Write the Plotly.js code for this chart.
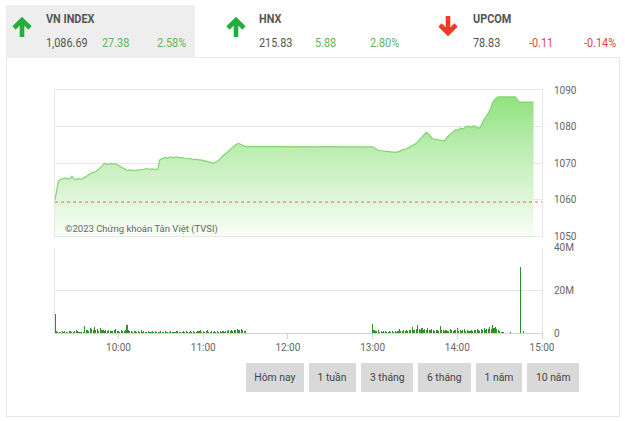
<!DOCTYPE html>
<html><head><meta charset="utf-8">
<script src="https://cdn.plot.ly/plotly-3.0.1.min.js"></script>
<style>
html,body{margin:0;padding:0;background:#fff;width:625px;height:421px;overflow:hidden;font-family:Roboto,"Noto Sans",sans-serif;}
#wrap{position:relative;width:625px;height:421px;}
#frame{position:absolute;left:6px;top:57px;width:614px;height:360px;border:1px solid #e8e8e8;box-sizing:border-box;}
#tab{position:absolute;left:6px;top:5px;width:189px;height:53px;background:#eeeeee;}
#chart{position:absolute;left:0;top:0;width:625px;height:421px;z-index:2;}
.t{position:absolute;white-space:nowrap;transform:scaleX(0.87);transform-origin:left center;font-size:12.5px;line-height:14px;}
.nm{font-weight:bold;color:#555;}
.v{color:#555;}
.up{color:#5cb85c;}
.dn{color:#e8443a;}
.arrow{position:absolute;width:20px;height:21px;}
.btn{position:absolute;top:363px;height:29px;background:#d9d9d9;color:#444;font-size:11.5px;line-height:29px;text-align:center;z-index:3;}
.btn span{display:inline-block;transform:scaleX(0.9);}
</style>
</head><body>
<div id="wrap">
  <div id="frame"></div>
  <div id="tab"></div>
  <div id="header"></div>
  <div id="chart"></div>
  <div id="buttons"></div>
</div>
<script>
// ---------- data ----------
const indexNames   = ['VN INDEX', 'HNX', 'UPCOM'];
const indexValues  = ['1,086.69', '215.83', '78.83'];
const indexChanges = ['27.38', '5.88', '-0.11'];
const indexPercent = ['2.58%', '2.80%', '-0.14%'];
const indexUp      = [true, true, false];

const rangeButtons = ['Hôm nay', '1 tuần', '3 tháng', '6 tháng', '1 năm', '10 năm'];

const tradeDay = '2023-01-03';
const closeValue = 1086.69;
const changeValue = 27.38;
const prevClose = 1059.31;

const priceTimes = ['09:15','09:16','09:17','09:18','09:20','09:22','09:24','09:26','09:27','09:28','09:29','09:31','09:33','09:35','09:37','09:39','09:41','09:43','09:45','09:47','09:49','09:50','09:52','09:54','09:56','09:58','10:00','10:02','10:04','10:06','10:08','10:10','10:12','10:14','10:16','10:18','10:20','10:22','10:24','10:26','10:28','10:29','10:31','10:33','10:35','10:37','10:39','10:41','10:43','10:45','10:47','10:50','10:53','10:56','10:59','11:02','11:05','11:07','11:09','11:11','11:13','11:15','11:17','11:19','11:21','11:23','11:25','11:26','11:28','11:30','13:00','13:02','13:04','13:07','13:10','13:13','13:16','13:19','13:21','13:24','13:26','13:28','13:31','13:33','13:35','13:37','13:38','13:40','13:42','13:44','13:47','13:49','13:51','13:53','13:55','13:57','13:59','14:01','14:02','14:04','14:06','14:08','14:10','14:12','14:14','14:16','14:17','14:18','14:20','14:22','14:24','14:25','14:27','14:29','14:41','14:44','14:54'];
const priceValues = [1059.9,1062.5,1064.2,1065.3,1065.7,1065.9,1065.6,1065.8,1066.4,1065.9,1065.4,1065.7,1065.5,1065.8,1066.2,1066.8,1067.3,1067.5,1068.0,1068.6,1069.4,1069.9,1069.6,1069.9,1069.7,1069.8,1069.3,1068.8,1068.3,1068.0,1068.1,1067.9,1068.0,1068.1,1068.0,1068.3,1068.5,1068.3,1068.4,1068.2,1068.4,1070.8,1071.2,1071.5,1071.4,1071.7,1071.5,1071.7,1071.4,1071.5,1071.3,1071.2,1071.1,1071.0,1070.8,1070.5,1070.1,1069.9,1070.3,1070.7,1071.6,1072.3,1072.9,1073.6,1074.4,1075.0,1075.4,1075.2,1074.7,1074.5,1074.4,1073.9,1073.5,1073.3,1073.2,1073.0,1072.9,1073.2,1073.6,1073.9,1074.2,1074.7,1075.4,1076.3,1077.3,1078.2,1078.4,1077.8,1076.8,1076.5,1076.4,1076.3,1076.1,1077.2,1078.0,1078.6,1079.2,1079.0,1079.6,1079.3,1079.9,1080.1,1079.8,1080.2,1079.7,1079.6,1080.4,1081.3,1082.5,1083.7,1085.3,1086.6,1087.6,1088.1,1088.1,1086.69,1086.69];

// volume (millions of shares) per minute
const volMorningStart = '09:15';
const volMorning = [9.0,
 1.0,0.6,0.7,0.5,0.8,0.6,0.9,0.7,0.5,1.1,0.8,0.6,0.7,0.9,1.2,0.8,0.6,0.5,0.7,0.4,
 3.3,1.2,1.5,1.0,2.2,1.8,1.4,2.6,1.3,1.9,1.1,2.4,1.6,1.2,0.9,1.4,1.0,1.3,0.8,1.1,
 0.9,1.2,1.8,0.8,1.0,0.7,1.3,1.1,0.9,1.6,3.9,1.2,0.8,1.0,0.7,0.9,1.1,0.6,0.8,0.7,
 1.2,0.6,0.8,0.5,0.7,1.0,0.6,0.5,0.8,0.6,1.1,0.7,0.5,0.6,0.9,0.7,0.6,0.8,0.5,0.7,
 0.6,0.9,0.5,0.7,0.6,0.8,1.1,0.6,0.5,0.7,0.9,0.6,0.8,0.5,0.7,1.0,0.6,0.8,0.5,0.7,
 0.8,1.0,1.6,0.7,0.9,0.6,0.8,1.2,0.7,0.6,0.9,0.7,1.0,0.6,0.8,0.7,0.9,0.6,0.8,0.7,
 1.0,0.8,1.2,0.9,1.4,1.1,1.6,1.3,1.9,1.5,1.2,1.7,1.4,1.1,0.8];
const volAfternoonStart = '13:00';
const volAfternoon = [4.2,
 1.5,1.0,0.8,1.2,0.7,0.9,0.6,0.8,1.0,0.7,0.6,0.9,0.7,0.8,0.6,1.0,0.7,0.9,2.0,0.8,
 0.9,1.2,1.0,1.4,1.1,1.6,1.3,2.8,1.5,1.2,1.8,4.0,1.7,1.4,2.2,1.6,1.9,1.3,2.5,1.5,
 1.2,1.8,1.4,1.1,1.6,1.3,1.0,3.3,1.4,1.2,1.0,1.5,1.1,0.9,1.8,1.3,1.0,1.6,1.2,2.2,
 1.1,1.4,0.9,1.2,1.7,1.0,1.3,0.8,1.1,1.6,1.0,1.4,1.2,1.8,1.5,1.1,1.9,1.6,2.3,1.4,
 2.0,1.7,2.6,1.9,4.0,2.2,2.8,1.8,1.2,0.9,0.6,0.4,0.3];
const volLateTimes = ['14:38','14:45','14:47','14:53'];
const volLate = [0.3,31.0,1.0,0.2];

const xTickTimes = ['10:00','11:00','12:00','13:00','14:00','15:00'];
const priceTicks = [1050,1060,1070,1080,1090];
const volTickVals = [0,20,40];
const volTickText = ['0','20M','40M'];
const axisStart = '09:15', axisEnd = '15:00';
const watermark = '©2023 Chứng khoán Tân Việt (TVSI)';

// ---------- header (HTML) ----------
const header = document.getElementById('header');
const colX = [46, 259, 473];
const arrowX = [12, 226, 438];
function arrowSvg(up){
  const c = up ? '#22b03a' : '#ef3b24';
  const body = up
    ? '<line x1="10" y1="20" x2="10" y2="4" stroke="'+c+'" stroke-width="4.6"/><polyline points="2,11 10,3 18,11" fill="none" stroke="'+c+'" stroke-width="4.6"/>'
    : '<line x1="10" y1="1" x2="10" y2="17" stroke="'+c+'" stroke-width="4.6"/><polyline points="2,10 10,18 18,10" fill="none" stroke="'+c+'" stroke-width="4.6"/>';
  return '<svg width="20" height="21" viewBox="0 0 20 21">'+body+'</svg>';
}
indexNames.forEach((n,i)=>{
  const x = colX[i];
  const cls = indexUp[i] ? 'up' : 'dn';
  header.insertAdjacentHTML('beforeend',
    '<div class="arrow" style="left:'+arrowX[i]+'px;top:'+(indexUp[i]?17:15)+'px">'+arrowSvg(indexUp[i])+'</div>'+
    '<div class="t nm" style="left:'+x+'px;top:12px">'+n+'</div>'+
    '<div class="t v" style="left:'+x+'px;top:36px">'+indexValues[i]+'</div>'+
    '<div class="t '+cls+'" style="left:'+(x+56)+'px;top:36px">'+indexChanges[i]+'</div>'+
    '<div class="t '+cls+'" style="left:'+(x+111)+'px;top:36px">'+indexPercent[i]+'</div>');
});

// ---------- buttons (HTML) ----------
const btnLeft = [246, 309, 361, 418, 476, 527];
const btnWidth = [58, 47, 52, 53, 46, 52];
const btns = document.getElementById('buttons');
rangeButtons.forEach((b,i)=>{
  btns.insertAdjacentHTML('beforeend','<div class="btn" style="left:'+btnLeft[i]+'px;width:'+btnWidth[i]+'px"><span>'+b+'</span></div>');
});

// ---------- chart ----------
const ts = t => tradeDay + ' ' + t;
function minuteSeries(start, n){
  const [h,m] = start.split(':').map(Number);
  const out = [];
  for(let i=0;i<n;i++){
    const tot = h*60+m+i;
    out.push(ts(String(Math.floor(tot/60)).padStart(2,'0')+':'+String(tot%60).padStart(2,'0')));
  }
  return out;
}
const volX = minuteSeries(volMorningStart, volMorning.length)
  .concat(minuteSeries(volAfternoonStart, volAfternoon.length))
  .concat(volLateTimes.map(ts));
const volY = volMorning.concat(volAfternoon).concat(volLate).map(v=>v*1e6);

const traces = [
  {
    type:'scatter', mode:'lines', x:priceTimes.map(ts), y:priceValues,
    xaxis:'x', yaxis:'y',
    line:{color:'#7fd66c', width:1.2, shape:'linear'},
    fill:'tozeroy',
    fillgradient:{type:'vertical', start:1050, stop:1090,
      colorscale:[[0,'#f8fdf7'],[0.25,'#dff6d9'],[0.6,'#bcedb1'],[0.95,'#90e27f'],[1,'#88df76']]},
    hoverinfo:'skip'
  },
  {
    type:'scatter', mode:'lines', x:[ts(axisStart), ts(axisEnd)], y:[prevClose, prevClose],
    xaxis:'x', yaxis:'y',
    line:{color:'rgba(205,85,70,0.85)', width:1, dash:'dot'}, hoverinfo:'skip'
  },
  {
    type:'bar', x:volX, y:volY, xaxis:'x2', yaxis:'y2',
    width:45000,
    marker:{color:'#2f8f2f', line:{width:0}}, hoverinfo:'skip'
  }
];

const layout = {
  width:625, height:421,
  margin:{l:55, r:83, t:90, b:88},
  paper_bgcolor:'rgba(0,0,0,0)', plot_bgcolor:'rgba(0,0,0,0)',
  showlegend:false, bargap:0,
  font:{family:'Roboto, sans-serif', size:10, color:'#666'},
  xaxis:{type:'date', range:[ts(axisStart), ts(axisEnd)], anchor:'y',
    showticklabels:false, showgrid:false, zeroline:false, ticks:'',
    showline:true, mirror:true, linecolor:'#e6e6e6', linewidth:1},
  yaxis:{domain:[0.399,1], range:[1050,1090], side:'right',
    tickvals:priceTicks, ticktext:priceTicks.map(String),
    gridcolor:'#e6e6e6', zeroline:false, showline:true, mirror:true, linecolor:'#e6e6e6',
    ticks:'', ticklabelstandoff:9},
  xaxis2:{type:'date', range:[ts(axisStart), ts(axisEnd)], anchor:'y2',
    tickvals:xTickTimes.map(ts), ticktext:xTickTimes,
    ticks:'outside', ticklen:5, tickcolor:'#ccd6eb', tickfont:{size:10, color:'#666'},
    showline:true, linecolor:'#ccd6eb', showgrid:false, zeroline:false},
  yaxis2:{domain:[0,0.35], range:[0,40e6], side:'right',
    tickvals:volTickVals.map(v=>v*1e6), ticktext:volTickText,
    gridcolor:'#e6e6e6', zeroline:false, showline:true, mirror:true, linecolor:'#e6e6e6',
    ticks:'', ticklabelstandoff:9},
  annotations:[{text:watermark, xref:'paper', yref:'paper', x:0.016, y:0.428,
    xanchor:'left', yanchor:'middle', showarrow:false,
    font:{size:9.5, color:'#666', family:'Roboto, sans-serif'}}]
};

Plotly.newPlot('chart', traces, layout, {staticPlot:true, displayModeBar:false});
</script>
</body></html>
